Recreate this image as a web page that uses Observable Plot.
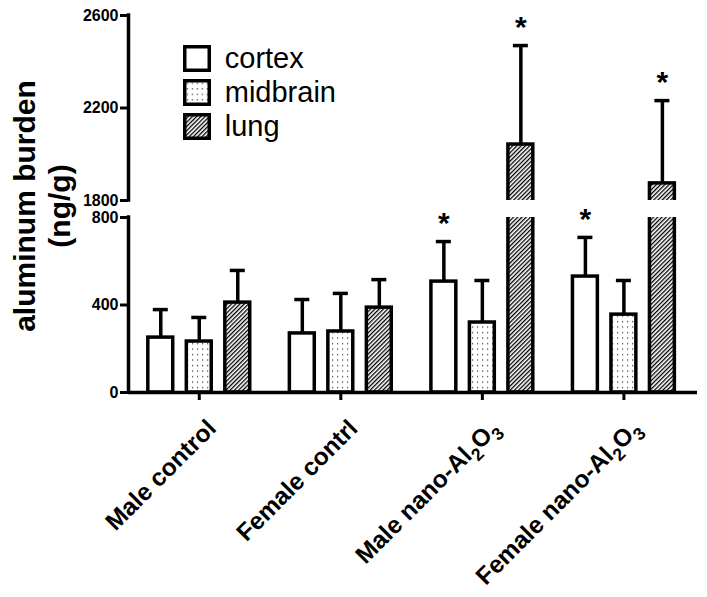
<!DOCTYPE html>
<html><head><meta charset="utf-8">
<script src="https://cdn.jsdelivr.net/npm/d3@7"></script>
<script src="https://cdn.jsdelivr.net/npm/@observablehq/plot@0.6"></script>
<style>
body{margin:0;background:#fff;}
#chart{position:relative;width:707px;height:597px;font-family:"Liberation Sans",Arial,sans-serif;}
#legend{position:absolute;left:0;top:0;}
</style></head><body><div id="chart"></div>
<svg width="0" height="0" style="position:absolute;left:0;top:0">
  <defs>
    <pattern id="dotfill" patternUnits="userSpaceOnUse" width="5" height="5.5">
      <rect width="5" height="5.5" fill="white"></rect>
      <rect x="2" y="2" width="1.2" height="1.2" fill="#333"></rect>
    </pattern>
    <pattern id="hatchfill" patternUnits="userSpaceOnUse" width="3" height="3" patternTransform="rotate(45)">
      <rect width="3" height="3" fill="white"></rect>
      <rect x="0" y="0" width="1.3" height="3" fill="black"></rect>
    </pattern>
  </defs>
</svg>
<script>
// ---- data ----
const groups = ["Male control", "Female contrl", "Male nano-Al₂O₃", "Female nano-Al₂O₃"];
const tissues = ["cortex", "midbrain", "lung"];
const cortexMean = [251, 270, 507, 530];
const cortexSD = [128, 155, 183, 179];
const midbrainMean = [233, 279, 320, 356];
const midbrainSD = [110, 174, 192, 156];
const lungMean = [411, 388, 2042, 1874];
const lungSD = [147, 128, 428, 358];
const cortexSig = [false, false, true, true];
const midbrainSig = [false, false, false, false];
const lungSig = [false, false, true, true];
const yTicks = [0, 400, 800, 1800, 2200, 2600];
const yBreak = [800, 1800];
const yTitle = "aluminum burden\n(ng/g)";

// ---- layout ----
const W = 707, H = 597;
const xDomain = [-0.5, 3.52];
const barStep = 0.272, barHalf = 0.088, capHalf = 0.053;
const lw = 3.5;
const yTickFont = 16, xTickFont = 24.5;
const tissueFill = ["white", "url(#dotfill)", "url(#hatchfill)"];

const means = [cortexMean, midbrainMean, lungMean];
const sds = [cortexSD, midbrainSD, lungSD];
const sigs = [cortexSig, midbrainSig, lungSig];
const rows = [];
groups.forEach((g, i) => tissues.forEach((t, j) => rows.push({
  g: i, t: j, tissue: t, mean: means[j][i], sd: sds[j][i], sig: sigs[j][i]
})));
const cx = d => d.g + (d.t - 1) * barStep;
const segments = [[0, yBreak[0]], [yBreak[1], yTicks[yTicks.length - 1]]];

const plot = Plot.plot({
  width: W, height: H,
  marginLeft: 128, marginRight: 10, marginTop: 15, marginBottom: 205,
  style: {fontFamily: '"Liberation Sans", Arial, sans-serif', background: "white", color: "black"},
  x: {type: "linear", domain: xDomain},
  y: {type: "linear", domain: [0, yBreak[0], yBreak[1], 2600], range: [392, 217, 200, 15]},
  color: {domain: tissues, range: tissueFill},
  marks: [
    Plot.rect(rows, {x1: d => cx(d) - barHalf, x2: d => cx(d) + barHalf, y1: 0, y2: "mean",
      fill: "tissue", stroke: "black", strokeWidth: lw}),
    Plot.rect([yBreak], {y1: d => d[0], y2: d => d[1], fill: "white"}),
    Plot.ruleX(rows, {x: cx, y1: "mean", y2: d => d.mean + d.sd, strokeWidth: lw}),
    Plot.ruleY(rows, {y: d => d.mean + d.sd, x1: d => cx(d) - capHalf, x2: d => cx(d) + capHalf, strokeWidth: lw}),
    Plot.text(rows.filter(d => d.sig), {x: cx, y: d => d.mean + d.sd, text: () => "*", dy: -18,
      fontSize: 30, fontWeight: "bold"}),
    Plot.ruleX(segments, {x: xDomain[0], y1: d => d[0], y2: d => d[1], strokeWidth: lw, strokeLinecap: "square"}),
    Plot.ruleY([0], {strokeWidth: lw}),
    Plot.axisY({ticks: yTicks, tickSize: 8, tickFormat: () => "", label: null, strokeWidth: 3}),
    Plot.text(yTicks, {x: xDomain[0], y: d => d, text: d => String(d), textAnchor: "end", dx: -10,
      fontSize: yTickFont, fontWeight: "bold"}),
    Plot.axisX({ticks: d3.range(groups.length), tickFormat: () => "", tickSize: 8, label: null, strokeWidth: 3}),
    Plot.text(d3.range(groups.length), {x: d => d, y: 0, text: i => groups[i], rotate: -45,
      textAnchor: "end", lineAnchor: "top", dx: 6, dy: 25, fontSize: xTickFont, fontWeight: "bold"}),
    Plot.text([yTitle], {frameAnchor: "left", dx: -87, dy: 2, rotate: -90, textAnchor: "middle",
      lineHeight: 1.15, fontSize: 30, fontWeight: "bold"})
  ]
});

const chart = document.getElementById("chart");
chart.appendChild(plot);

// subscripts (real text, lowered digits)
const subMap = {"₀":"0","₁":"1","₂":"2","₃":"3","₄":"4","₅":"5","₆":"6","₇":"7","₈":"8","₉":"9"};
const targets = [];
plot.querySelectorAll("text").forEach(el => {
  el.childNodes.forEach(n => { if (n.nodeType === 3 && /[₀-₉]/.test(n.nodeValue)) targets.push([el, n]); });
});
targets.forEach(([el, node]) => {
  const shift = xTickFont * 0.28;
  const runs = node.nodeValue.match(/[₀-₉]+|[^₀-₉]+/g);
  const frag = document.createDocumentFragment();
  let inSub = false;
  runs.forEach(r => {
    const isSub = /[₀-₉]/.test(r);
    if (!isSub && !inSub) { frag.appendChild(document.createTextNode(r)); return; }
    const ts = document.createElementNS("http://www.w3.org/2000/svg", "tspan");
    if (isSub) {
      ts.setAttribute("dy", shift); ts.setAttribute("font-size", "72%");
      ts.textContent = r.replace(/[₀-₉]/g, c => subMap[c]);
    } else {
      ts.setAttribute("dy", -shift); ts.textContent = r;
    }
    inSub = isSub;
    frag.appendChild(ts);
  });
  el.replaceChild(frag, node);
});

// pin tick-label fonts inline
plot.querySelectorAll("text").forEach(t => {
  if (/^\d+$/.test(t.textContent)) {
    t.style.fontSize = yTickFont + "px"; t.style.fontWeight = "bold";
    t.style.fontFamily = '"Liberation Sans", Arial, sans-serif';
  }
});

// legend
const leg = d3.select(chart).append("svg").attr("id", "legend").attr("width", 360).attr("height", 150)
  .style("pointer-events", "none");
const li = leg.selectAll("g").data(tissues).join("g")
  .attr("transform", (d, i) => `translate(184.75,${46.75 + i * 34})`);
li.append("rect").attr("width", 24.5).attr("height", 23.5)
  .attr("fill", (d, i) => tissueFill[i]).attr("stroke", "black").attr("stroke-width", lw);
li.append("text").attr("x", 40).attr("y", 21.5).text(d => d)
  .style("font-size", "29px").style("font-family", '"Liberation Sans", Arial, sans-serif');
</script></body></html>
